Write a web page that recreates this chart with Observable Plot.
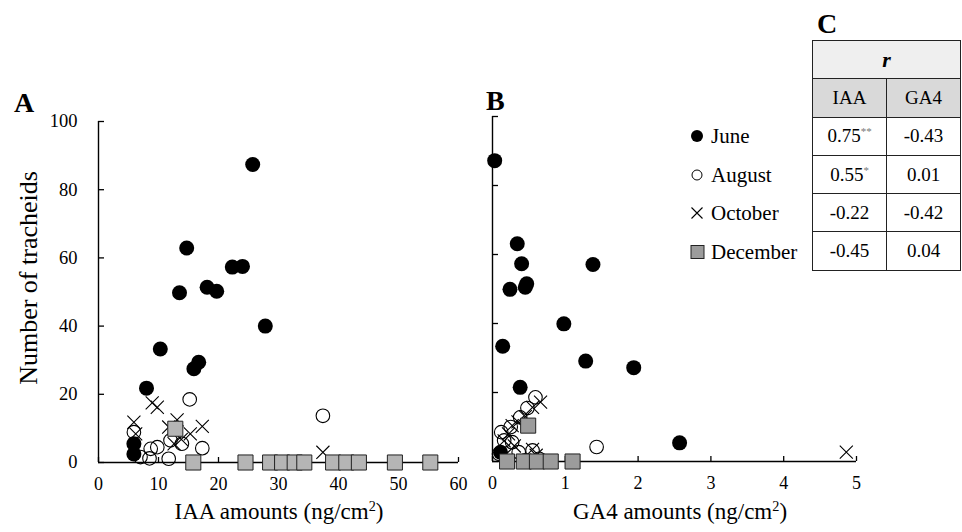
<!DOCTYPE html>
<html><head><meta charset="utf-8">
<script src="https://cdn.jsdelivr.net/npm/d3@7"></script>
<script src="https://cdn.jsdelivr.net/npm/@observablehq/plot@0.6"></script>
<style>
body{margin:0;background:#fff;font-family:"Liberation Serif","Times New Roman",Times,serif;color:#000;}
#wrap{position:relative;width:962px;height:532px;overflow:hidden;background:#fff;}
.abs{position:absolute;line-height:1;white-space:nowrap;}
.panel{font-weight:bold;font-size:28px;}
#legend{position:absolute;left:690px;top:117px;font-size:21px;}
#legend .row{height:38.5px;line-height:38.5px;display:flex;align-items:baseline;}
#legend svg{width:20px;height:14px;flex:none;margin-right:1px;}
#tbl{position:absolute;left:812px;top:40px;border-collapse:collapse;font-size:19px;}
#tbl td{border:1.3px solid #222;height:37.3px;padding:0;text-align:center;width:73px;}
#tbl sup{font-size:11px;color:#777;vertical-align:7px;}
</style></head><body><div id="wrap"></div>
<script>
const FONT = '"Liberation Serif","Times New Roman",Times,serif';
// ---------- data ----------
const months = ["June", "August", "October", "December"];
// Panel A: IAA amounts (ng/cm2) vs number of tracheids
const juneIAA   = [25.7, 14.7, 22.3, 24.0, 18.1, 19.7, 13.5, 27.8, 10.3, 16.7, 15.9, 8.0, 5.9, 5.9];
const juneNA    = [87.4, 62.9, 57.3, 57.5, 51.4, 50.2, 49.8, 40.0, 33.3, 29.4, 27.5, 21.8, 5.5, 2.5];
const augIAA    = [15.2, 37.4, 5.9, 8.7, 9.8, 7.0, 8.5, 11.7, 12.0, 13.9, 17.3];
const augNA     = [18.5, 13.7, 8.9, 4.0, 4.5, 1.6, 1.2, 1.1, 6.5, 5.5, 4.2];
const octIAA    = [5.9, 6.2, 8.95, 9.8, 13.1, 11.7, 17.3, 15.3, 12.6, 13.8, 37.4];
const octNA     = [11.8, 8.4, 17.5, 16.2, 12.5, 10.4, 10.6, 8.4, 5.5, 6.8, 3.0];
const decIAA    = [12.8, 15.8, 24.5, 28.6, 30.6, 32.7, 34.3, 39.1, 41.3, 43.4, 49.4, 55.3];
const decNA     = [9.9, 0, 0, 0, 0, 0, 0, 0, 0, 0, 0, 0];
// Panel B: GA4 amounts (ng/cm2) vs number of tracheids
const juneGA4   = [0.03, 0.34, 0.40, 1.38, 0.24, 0.45, 0.47, 0.98, 0.14, 1.28, 1.94, 0.38, 2.57, 0.11];
const juneNB    = [87.2, 63.1, 57.3, 57.1, 49.9, 50.5, 51.5, 39.9, 33.4, 29.1, 27.2, 21.5, 5.4, 2.7];
const augGA4    = [0.59, 0.48, 0.38, 0.25, 0.16, 0.09, 0.36, 0.55, 0.64, 1.43, 0.27, 0.45, 0.12];
const augNB     = [18.6, 15.5, 12.8, 10.0, 6.1, 2.2, 2.7, 3.2, 0.8, 4.2, 5.6, 0.3, 8.5];
const octGA4    = [0.66, 0.55, 0.45, 0.35, 0.27, 0.22, 0.16, 0.55, 0.60, 0.30, 4.86];
const octNB     = [17.2, 15.7, 13.0, 11.5, 10.4, 8.0, 6.0, 3.5, 1.8, 4.5, 2.7];
const decGA4    = [0.49, 0.20, 0.43, 0.61, 0.80, 1.10];
const decNB     = [10.4, 0, 0, 0, 0, 0];
// axes
const xTicksA = [0, 10, 20, 30, 40, 50, 60];
const xTicksB = [0, 1, 2, 3, 4, 5];
const yTicks  = [0, 20, 40, 60, 80, 100];
// table C: correlation coefficients r
const tableHead = ["IAA", "GA4"];
const rIAA = ["0.75", "0.55", "-0.22", "-0.45"];
const rIAAsig = ["**", "*", "", ""];
const rGA4 = ["-0.43", "0.01", "-0.42", "0.04"];

const zip = (xs, ys) => xs.map((x, i) => ({x, y: ys[i]}));

function panel({left, width, mL, mR, mT, mB, xDomain, xTicks, showYLabels, sets, sqFill}) {
  const height = 532;
  const frameH = height - mT - mB;
  const frameW = width - mL - mR;
  const marks = [
    Plot.ruleX([0], {stroke: "#000", strokeWidth: 1.4}),
    Plot.ruleY([0], {stroke: "#000", strokeWidth: 1.4}),
    Plot.tickY(yTicks, {y: d => d, stroke: "#000", strokeWidth: 1.3, insetRight: frameW - 6}),
    Plot.tickX(xTicks, {x: d => d, stroke: "#000", strokeWidth: 1.3, insetTop: frameH - 5}),
    Plot.axisX({ticks: xTicks, tickSize: 0, tickPadding: 15, fontSize: 18, label: null, tickFormat: d => String(d)}),
  ];
  if (showYLabels) marks.push(Plot.axisY({ticks: yTicks, tickSize: 0, tickPadding: 21, fontSize: 18.5, label: null, tickFormat: d => String(d)}));
  marks.push(
    Plot.dot(sets[0], {x: "x", y: "y", r: 7.5, fill: "#000", stroke: "none"}),
    Plot.dot(sets[1], {x: "x", y: "y", r: 6.8, fill: "none", stroke: "#000", strokeWidth: 1.1}),
    Plot.dot(sets[2], {x: "x", y: "y", r: 6, symbol: "times", stroke: "#000", strokeWidth: 1.1}),
    Plot.dot(sets[3], {x: "x", y: "y", r: 8.5, symbol: "square", fill: sqFill, stroke: "#222", strokeWidth: 1})
  );
  const svg = Plot.plot({
    width, height, marginLeft: mL, marginRight: mR, marginTop: mT, marginBottom: mB,
    x: {domain: xDomain, axis: null},
    y: {domain: [0, 100], axis: null},
    style: {fontFamily: FONT, fontSize: "18px", color: "#000", background: "transparent", overflow: "visible"},
    marks
  });
  const div = document.createElement("div");
  div.className = "abs";
  div.style.left = left + "px"; div.style.top = "0px"; div.style.width = width + "px";
  div.appendChild(svg);
  return div;
}

const wrap = document.getElementById("wrap");
wrap.appendChild(panel({
  left: 0, width: 475, mL: 98, mR: 17, mT: 121, mB: 70,
  xDomain: [0, 60], xTicks: xTicksA, showYLabels: true, sqFill: "#b5b5b5",
  sets: [zip(juneIAA, juneNA), zip(augIAA, augNA), zip(octIAA, octNA), zip(decIAA, decNA)]
}));
wrap.appendChild(panel({
  left: 470, width: 410, mL: 22, mR: 24, mT: 116, mB: 71,
  xDomain: [0, 5], xTicks: xTicksB, showYLabels: false, sqFill: "#9c9c9c",
  sets: [zip(juneGA4, juneNB), zip(augGA4, augNB), zip(octGA4, octNB), zip(decGA4, decNB)]
}));

function addText(html, cls, x, baseline, fs, anchor) {
  const d = document.createElement("div");
  d.className = "abs " + (cls || "");
  d.style.fontSize = fs + "px";
  d.innerHTML = html;
  d.style.top = (baseline - 0.8375 * fs) + "px";
  d.style.left = x + "px";
  if (anchor === "middle") d.style.transform = "translateX(-50%)";
  wrap.appendChild(d);
  return d;
}
addText("A", "panel", 14, 112, 28);
addText("B", "panel", 486, 110, 28);
addText("C", "panel", 817, 33, 28);
const sup2 = "<sup style='font-size:0.62em;vertical-align:0.55em;line-height:0'>2</sup>";
addText("IAA amounts (ng/cm" + sup2 + ")", "", 279, 519, 23, "middle");
addText("GA4 amounts (ng/cm" + sup2 + ")", "", 680, 519, 23, "middle");
const yt = document.createElement("div");
yt.className = "abs";
yt.style.fontSize = "26px";
yt.textContent = "Number of tracheids";
yt.style.left = "29px"; yt.style.top = "278px";
yt.style.transform = "translate(-50%,-50%) rotate(-90deg)";
wrap.appendChild(yt);

// legend
const sym = {
  June: '<svg viewBox="0 0 20 14"><circle cx="7" cy="7" r="6" fill="#000"/></svg>',
  August: '<svg viewBox="0 0 20 14"><circle cx="7" cy="7" r="5" fill="none" stroke="#000" stroke-width="1"/></svg>',
  October: '<svg viewBox="0 0 20 14"><path d="M1.5,1.5L12.5,12.5M1.5,12.5L12.5,1.5" stroke="#000" stroke-width="1.1"/></svg>',
  December: '<svg viewBox="0 0 20 14"><rect x="1" y="0.5" width="13" height="13" fill="#9c9c9c" stroke="#222" stroke-width="1"/></svg>'
};
const lg = document.createElement("div");
lg.id = "legend";
lg.innerHTML = months.map(m => `<div class="row">${sym[m]}<span>${m}</span></div>`).join("");
wrap.appendChild(lg);

// table
const tb = document.createElement("table");
tb.id = "tbl";
let h = `<tr><td colspan="2" style="background:#efefef;font-weight:bold;font-style:italic;font-size:22px">r</td></tr>`;
h += `<tr>${tableHead.map(t => `<td style="background:#d9d9d9">${t}</td>`).join("")}</tr>`;
h += rIAA.map((v, i) => `<tr><td>${v}${rIAAsig[i] ? `<sup>${rIAAsig[i]}</sup>` : ""}</td><td>${rGA4[i]}</td></tr>`).join("");
tb.innerHTML = h;
wrap.appendChild(tb);
</script></body></html>
